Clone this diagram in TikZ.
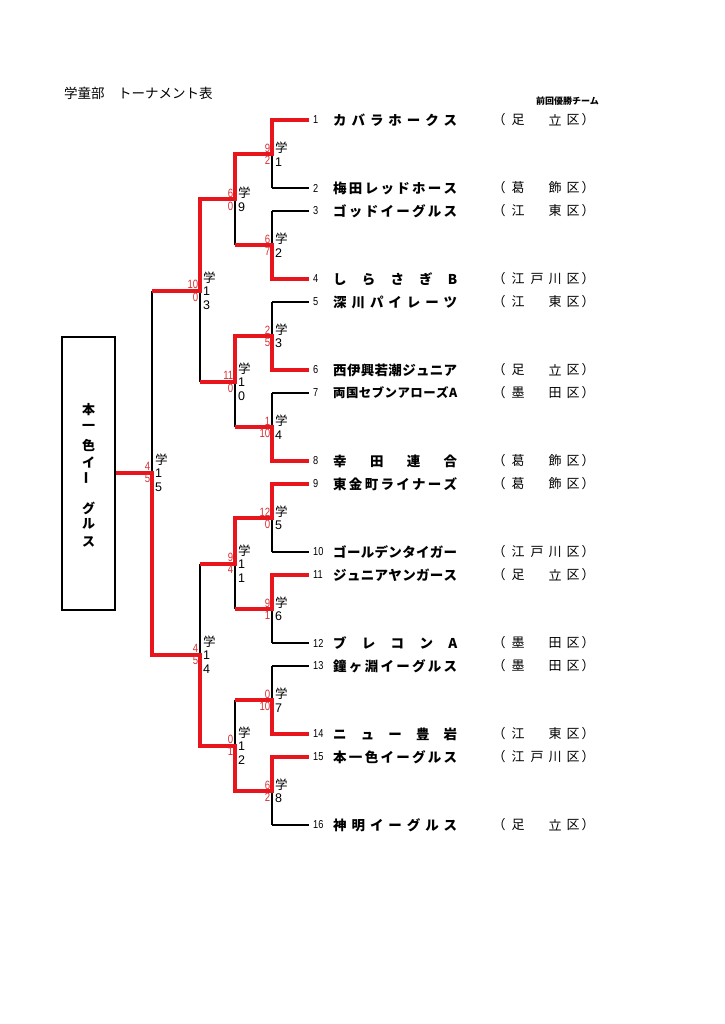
\documentclass[tikz,border=0pt]{standalone}
\usepackage{fontspec}
\setmainfont{Liberation Sans}
\newfontfamily\jp{Noto Sans CJK JP}
\newfontfamily\narrowf{Liberation Sans}[FakeStretch=0.8]
\definecolor{rl}{RGB}{232,22,28}
\definecolor{rs}{RGB}{212,48,52}
\newcommand\mlab[4]{%
  \node[lbl,xshift=3pt] at (#1) {#2};
  \node[sct,xshift=-1.5pt,yshift=1.5pt] at (#1) {#3};
  \node[scb,xshift=-1.5pt,yshift=-2pt] at (#1) {#4};}
\newcommand\teamrow[3]{% index, name, ward
  \node[num,xshift=4pt] (n#1) at (E#1) {#1};
  \node[tname,xshift=24pt] (tm#1) at (E#1) {\makebox[124pt]{#2}};
  \node[ward,xshift=190pt] (wa#1) at (E#1) {（};
  #3
  \node[ward,xshift=264pt] (wd#1) at (E#1) {区};
  \node[ward,xshift=279pt] (we#1) at (E#1) {）};}
\newcommand\wtwo[3]{%
  \node[ward,xshift=209pt] at (E#1) {#2};
  \node[ward,xshift=246pt] at (E#1) {#3};}
\newcommand\wthree[4]{%
  \node[ward,xshift=209pt] at (E#1) {#2};
  \node[ward,xshift=228pt] at (E#1) {#3};
  \node[ward,xshift=246pt] at (E#1) {#4};}
\begin{document}
\begin{tikzpicture}[x=1pt,y=-1pt,
  redl/.style={draw=rl,line width=4pt,line join=miter},
  blkl/.style={draw=black,line width=1.3pt},
  lbl/.style={anchor=west,inner sep=0pt,align=left,font=\fontsize{12.5}{13.5}\selectfont},
  sct/.style={anchor=south east,inner sep=0pt,text=rs,font={\fontsize{12}{12}\narrowf}},
  scb/.style={anchor=north east,inner sep=0pt,text=rs,font={\fontsize{12}{12}\narrowf}},
  num/.style={anchor=west,inner sep=0pt,font={\fontsize{11.5}{12}\narrowf}},
  tname/.style={anchor=west,inner sep=0pt,font={\fontsize{13.5}{15}\jp\bfseries}},
  ward/.style={inner sep=0pt,font={\fontsize{13}{14}\jp}},
  boxch/.style={inner sep=0pt,font={\fontsize{13}{14}\jp\bfseries}}]
\useasboundingbox (0,0) rectangle (724,1024);
% team coordinates
\foreach \i/\y in {1/120,2/188,3/211,4/279,5/302,6/370,7/393,8/461,9/484,10/552,11/575,12/643,13/666,14/734,15/757,16/825}{
  \coordinate (T\i) at (272,\y);
  \coordinate (E\i) at (309,\y);}
\foreach \k/\y in {1/154,2/245,3/336,4/427,5/518,6/609,7/700,8/791}{
  \coordinate (A\k) at (272,\y);
  \coordinate (B\k) at (235,\y);}
\foreach \k/\y in {1/199.5,2/381.5,3/563.5,4/745.5}{
  \coordinate (C\k) at (235,\y);
  \coordinate (D\k) at (200,\y);}
\foreach \k/\y in {1/290.5,2/654.5}{
  \coordinate (F\k) at (200,\y);
  \coordinate (G\k) at (152,\y);}
\coordinate (H) at (152,472.5);
% title
\node[anchor=west,inner sep=0pt,font={\fontsize{13.5}{15}\jp}] (title) at (64,93) {学童部　トーナメント表};
\node[anchor=west,inner sep=0pt,font={\fontsize{9}{10}\jp\bfseries}] (prev) at (536,101) {前回優勝チーム};
% champion box
\node[draw,line width=1.3pt,minimum width=53pt,minimum height=273pt,inner sep=0pt] (box) at (88.5,473.5) {};
\node[boxch] (b1) at (88.5,410) {本};
\node[boxch] (b2) at (88.5,427) {一};
\node[boxch] (b3) at (88.5,445) {色};
\node[boxch] (b4) at (88.5,462) {イ};
\node[boxch,rotate=90] (b5) at (88.5,478) {ー};
\node[boxch] (b6) at (88.5,508) {グ};
\node[boxch] (b7) at (88.5,524) {ル};
\node[boxch] (b8) at (88.5,542) {ス};
% black lines
\foreach \i in {1,...,16}{\draw[blkl] (T\i) -- (E\i);}
\foreach \a/\b in {1/2,3/4,5/6,7/8,9/10,11/12,13/14,15/16}{\draw[blkl] (T\a) -- (T\b);}
\foreach \a/\b in {1/2,3/4,5/6,7/8}{\draw[blkl] (B\a) -- (B\b);}
\draw[blkl] (D1) -- (D2);
\draw[blkl] (D3) -- (D4);
\draw[blkl] (G1) -- (G2);
% red winner paths
\draw[redl] (E1) -- (T1) -- (A1) -- (B1) -- (C1) -- (D1) -- (F1) -- (G1);
\draw[redl] (E4) -- (T4) -- (A2) -- (B2);
\draw[redl] (E6) -- (T6) -- (A3) -- (B3) -- (C2) -- (D2);
\draw[redl] (E8) -- (T8) -- (A4) -- (B4);
\draw[redl] (E9) -- (T9) -- (A5) -- (B5) -- (C3) -- (D3);
\draw[redl] (E11) -- (T11) -- (A6) -- (B6);
\draw[redl] (E14) -- (T14) -- (A7) -- (B7);
\draw[redl] (E15) -- (T15) -- (A8) -- (B8) -- (C4) -- (D4) -- (F2) -- (G2) -- (H) -- (box.east |- H);
% match labels and scores
\mlab{A1}{{\jp 学}\\1}{9}{2}
\mlab{A2}{{\jp 学}\\2}{6}{7}
\mlab{A3}{{\jp 学}\\3}{2}{5}
\mlab{A4}{{\jp 学}\\4}{1}{10}
\mlab{A5}{{\jp 学}\\5}{12}{0}
\mlab{A6}{{\jp 学}\\6}{9}{1}
\mlab{A7}{{\jp 学}\\7}{0}{10}
\mlab{A8}{{\jp 学}\\8}{6}{2}
\mlab{C1}{{\jp 学}\\9}{6}{0}
\mlab{C2}{{\jp 学}\\1\\0}{11}{0}
\mlab{C3}{{\jp 学}\\1\\1}{9}{4}
\mlab{C4}{{\jp 学}\\1\\2}{0}{1}
\mlab{F1}{{\jp 学}\\1\\3}{10}{0}
\mlab{F2}{{\jp 学}\\1\\4}{4}{5}
\mlab{H}{{\jp 学}\\1\\5}{4}{5}
% teams
\teamrow{1}{カ\hfill バ\hfill ラ\hfill ホ\hfill ー\hfill ク\hfill ス}{\wtwo{1}{足}{立}}
\teamrow{2}{梅\hfill 田\hfill レ\hfill ッ\hfill ド\hfill ホ\hfill ー\hfill ス}{\wtwo{2}{葛}{飾}}
\teamrow{3}{ゴ\hfill ッ\hfill ド\hfill イ\hfill ー\hfill グ\hfill ル\hfill ス}{\wtwo{3}{江}{東}}
\teamrow{4}{し\hfill ら\hfill さ\hfill ぎ\hfill B}{\wthree{4}{江}{戸}{川}}
\teamrow{5}{深\hfill 川\hfill パ\hfill イ\hfill レ\hfill ー\hfill ツ}{\wtwo{5}{江}{東}}
\teamrow{6}{西\hfill 伊\hfill 興\hfill 若\hfill 潮\hfill ジ\hfill ュ\hfill ニ\hfill ア}{\wtwo{6}{足}{立}}
\teamrow{7}{\fontsize{12.4}{15}\selectfont 両\hfill 国\hfill セ\hfill ブ\hfill ン\hfill ア\hfill ロ\hfill ー\hfill ズ\hfill A}{\wtwo{7}{墨}{田}}
\teamrow{8}{幸\hfill 田\hfill 連\hfill 合}{\wtwo{8}{葛}{飾}}
\teamrow{9}{東\hfill 金\hfill 町\hfill ラ\hfill イ\hfill ナ\hfill ー\hfill ズ}{\wtwo{9}{葛}{飾}}
\teamrow{10}{ゴ\hfill ー\hfill ル\hfill デ\hfill ン\hfill タ\hfill イ\hfill ガ\hfill ー}{\wthree{10}{江}{戸}{川}}
\teamrow{11}{ジ\hfill ュ\hfill ニ\hfill ア\hfill ヤ\hfill ン\hfill ガ\hfill ー\hfill ス}{\wtwo{11}{足}{立}}
\teamrow{12}{ブ\hfill レ\hfill コ\hfill ン\hfill A}{\wtwo{12}{墨}{田}}
\teamrow{13}{鐘\hfill ヶ\hfill 淵\hfill イ\hfill ー\hfill グ\hfill ル\hfill ス}{\wtwo{13}{墨}{田}}
\teamrow{14}{ニ\hfill ュ\hfill ー\hfill 豊\hfill 岩}{\wtwo{14}{江}{東}}
\teamrow{15}{本\hfill 一\hfill 色\hfill イ\hfill ー\hfill グ\hfill ル\hfill ス}{\wthree{15}{江}{戸}{川}}
\teamrow{16}{神\hfill 明\hfill イ\hfill ー\hfill グ\hfill ル\hfill ス}{\wtwo{16}{足}{立}}
\end{tikzpicture}
\end{document}
